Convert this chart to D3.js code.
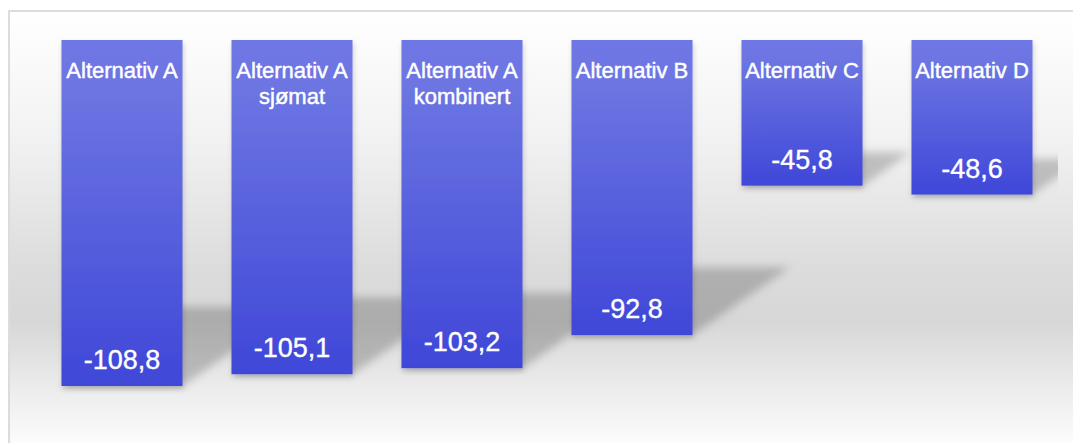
<!DOCTYPE html>
<html>
<head>
<meta charset="utf-8">
<script src="https://cdn.jsdelivr.net/npm/d3@7"></script>
<style>
  body { margin: 0; background: #fff; }
  text { font-family: "Liberation Sans", Arial, sans-serif; fill: #fff; stroke: #fff; }
</style>
</head>
<body>
<script>
// Data
const categories = ["Alternativ A", "Alternativ A sjømat", "Alternativ A kombinert", "Alternativ B", "Alternativ C", "Alternativ D"];
const values = [-108.8, -105.1, -103.2, -92.8, -45.8, -48.6];
const valueLabels = ["-108,8", "-105,1", "-103,2", "-92,8", "-45,8", "-48,6"];

// Dimensions
const width = 1073, height = 443;

const svg = d3.select("body")
    .append("svg")
    .attr("width", width)
    .attr("height", height);

const defs = svg.append("defs");

// background gradient (white -> grey -> white)
const bg = defs.append("linearGradient")
    .attr("id", "bg").attr("x1", 0).attr("y1", 0).attr("x2", 0).attr("y2", 1);
[[0, "#ffffff"], [0.27, "#f3f3f3"], [0.58, "#dcdcdc"], [0.7, "#d7d7d7"], [0.85, "#ececec"], [1, "#ffffff"]]
    .forEach(s => bg.append("stop").attr("offset", s[0]).attr("stop-color", s[1]));

// bar gradient
const bar = defs.append("linearGradient")
    .attr("id", "barFill").attr("x1", 0).attr("y1", 0).attr("x2", 0).attr("y2", 1);
[[0, "#6e77e3"], [0.15, "#6c75e2"], [1, "#3f47d8"]]
    .forEach(s => bar.append("stop").attr("offset", s[0]).attr("stop-color", s[1]));

defs.append("filter").attr("id", "blur")
    .attr("x", "-20%").attr("y", "-20%").attr("width", "140%").attr("height", "140%")
    .append("feGaussianBlur").attr("stdDeviation", 4);

defs.append("filter").attr("id", "drop")
    .attr("x", "-10%").attr("y", "-10%").attr("width", "120%").attr("height", "120%")
    .append("feDropShadow")
    .attr("dx", 1).attr("dy", 3).attr("stdDeviation", 2.5)
    .attr("flood-color", "#000").attr("flood-opacity", 0.18);

defs.append("clipPath").attr("id", "plotClip")
    .append("rect").attr("x", 10).attr("y", 12).attr("width", 1048).attr("height", 431);

// frame
svg.append("rect")
    .attr("x", 10).attr("y", 12)
    .attr("width", width).attr("height", height)
    .attr("fill", "url(#bg)");
svg.append("rect")
    .attr("x", 9).attr("y", 11)
    .attr("width", width + 20).attr("height", height + 20)
    .attr("fill", "none")
    .attr("stroke", "#dcdcdc")
    .attr("stroke-width", 2);

// Scales
const x = d3.scaleBand()
    .domain(categories)
    .range([20, 1074])
    .paddingInner(0.288)
    .paddingOuter(0.244);

const y = d3.scaleLinear()
    .domain([0, -120])
    .range([40, 421.6]);

const data = categories.map((c, i) => ({ cat: c, value: values[i], label: valueLabels[i] }));

// perspective shadows on the floor
const sk = 0.33, sh = 0.23;
svg.append("g")
    .attr("clip-path", "url(#plotClip)")
    .append("g")
    .attr("filter", "url(#blur)")
    .selectAll("polygon")
    .data(data)
    .join("polygon")
    .attr("fill", "#000")
    .attr("fill-opacity", 0.2)
    .attr("points", d => {
        const x0 = x(d.cat), x1 = x0 + x.bandwidth();
        const b = y(d.value), h = b - y(0);
        return [[x0, b], [x1, b], [x1 + sk * h, b - sh * h], [x0 + sk * h, b - sh * h]].join(" ");
    });

// bars
svg.append("g")
    .selectAll("rect")
    .data(data)
    .join("rect")
    .attr("x", d => x(d.cat))
    .attr("y", y(0))
    .attr("width", x.bandwidth())
    .attr("height", d => y(d.value) - y(0))
    .attr("fill", "url(#barFill)")
    .attr("filter", "url(#drop)");

// category labels (wrapped)
const catText = svg.append("g")
    .selectAll("text")
    .data(data)
    .join("text")
    .attr("text-anchor", "middle")
    .style("font-size", "22px")
    .style("stroke-width", 0.45)
    .attr("x", d => x(d.cat) + x.bandwidth() / 2)
    .attr("y", 78);

catText.each(function(d) {
    const t = d3.select(this);
    const words = d.cat.split(" ");
    const cx = x(d.cat) + x.bandwidth() / 2;
    let line = [];
    let tspan = t.append("tspan").attr("x", cx).attr("dy", 0);
    words.forEach(w => {
        line.push(w);
        tspan.text(line.join(" "));
        if (tspan.node().getComputedTextLength() > x.bandwidth() && line.length > 1) {
            line.pop();
            tspan.text(line.join(" "));
            line = [w];
            tspan = t.append("tspan").attr("x", cx).attr("dy", 26).text(w);
        }
    });
});

// value labels
svg.append("g")
    .selectAll("text")
    .data(data)
    .join("text")
    .attr("text-anchor", "middle")
    .style("font-size", "27px")
    .style("stroke-width", 0.35)
    .attr("x", d => x(d.cat) + x.bandwidth() / 2)
    .attr("y", d => y(d.value) - 17)
    .text(d => d.label);
</script>
</body>
</html>
